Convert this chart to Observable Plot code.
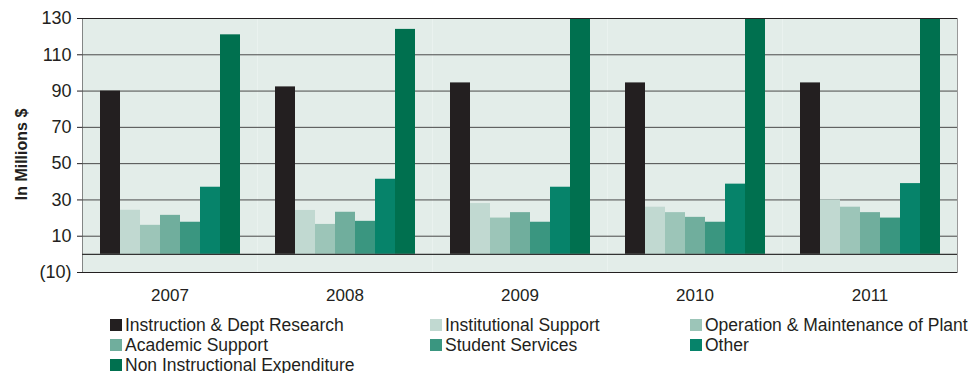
<!DOCTYPE html>
<html>
<head>
<meta charset="utf-8">
<script src="https://cdn.jsdelivr.net/npm/d3@7"></script>
<script src="https://cdn.jsdelivr.net/npm/@observablehq/plot@0.6"></script>
<style>
  body { margin: 0; background: #fff; font-family: "Liberation Sans", Arial, sans-serif; color: #231f20; }
  #chart svg { display: block; }
  [aria-label="y-axis label"] { font-weight: bold; font-size: 16px; translate: 0 9px; }
  [aria-label="fx-axis tick label"] { font-size: 17px; }
  .legend { display: grid; grid-template-columns: 320px 260px auto; margin-left: 110px; padding-top: 5px; font-size: 17.5px; }
  .legend .item { display: flex; align-items: center; height: 20px; white-space: nowrap; }
  .legend .sw { width: 12px; height: 12px; margin-right: 3px; flex: none; }
</style>
</head>
<body>
<div id="chart"></div>
<div class="legend" id="legend"></div>
<script>
const years = ["2007", "2008", "2009", "2010", "2011"];
const categories = [
  "Instruction & Dept Research",
  "Institutional Support",
  "Operation & Maintenance of Plant",
  "Academic Support",
  "Student Services",
  "Other",
  "Non Instructional Expenditure"
];
const colors = ["#231f20", "#c1d9d1", "#9cc5b8", "#70ae9d", "#3a9680", "#06836a", "#00704f"];

const instruction   = [90, 92.3, 94.5, 94.5, 94.5];
const institutional = [24.3, 24.2, 28, 26, 30];
const operation     = [16, 16.5, 20, 23, 26];
const academic      = [21.5, 23.2, 23, 20.4, 23];
const student       = [17.7, 18.2, 17.7, 17.7, 20];
const other         = [37, 41.4, 37, 38.7, 39];
const nonInstr      = [121, 124, 135, 140, 145];

const yTicks = [-10, 10, 30, 50, 70, 90, 110, 130];
const gridValues = [10, 30, 50, 70, 90, 110];

const series = [instruction, institutional, operation, academic, student, other, nonInstr];
const data = [];
years.forEach((yr, i) => {
  categories.forEach((c, j) => data.push({year: yr, category: c, value: series[j][i]}));
});

const chart = Plot.plot({
  width: 971,
  height: 310,
  marginLeft: 80,
  marginRight: 13,
  marginTop: 18,
  marginBottom: 38,
  style: {fontFamily: "'Liberation Sans', Arial, sans-serif", fontSize: "18px", color: "#231f20", background: "#fff", overflow: "visible"},
  fx: {domain: years, padding: 0, label: null, axis: "bottom", tickSize: 0, tickPadding: 16},
  x: {domain: categories, axis: null, paddingInner: 0, paddingOuter: 0.74},
  y: {
    domain: [-10, 130],
    ticks: yTicks,
    tickFormat: d => d < 0 ? `(${-d})` : `${d}`,
    tickSize: 5,
    tickPadding: 6,
    line: true,
    label: "In Millions $",
    labelArrow: "none",
    labelAnchor: "center",
    labelOffset: 67
  },
  color: {domain: categories, range: colors},
  marks: [
    Plot.frame({fill: "#e3ede9", stroke: null}),
    Plot.ruleY(gridValues, {stroke: "#4a4a4a", strokeWidth: 1}),
    Plot.barY(data, {fx: "year", x: "category", y: "value", fill: "category", clip: true}),
    Plot.ruleY([0], {stroke: "#333", strokeWidth: 1.2}),
    Plot.ruleY([130, -10], {stroke: "#231f20", strokeWidth: 1.2}),
    Plot.frame({anchor: "right", facetAnchor: "right", stroke: "#999"})
  ]
});
document.getElementById("chart").appendChild(chart);

const legend = document.getElementById("legend");
categories.forEach((c, i) => {
  const item = document.createElement("div");
  item.className = "item";
  const sw = document.createElement("span");
  sw.className = "sw";
  sw.style.background = colors[i];
  const t = document.createElement("span");
  t.textContent = c;
  item.appendChild(sw);
  item.appendChild(t);
  legend.appendChild(item);
});
</script>
</body>
</html>
